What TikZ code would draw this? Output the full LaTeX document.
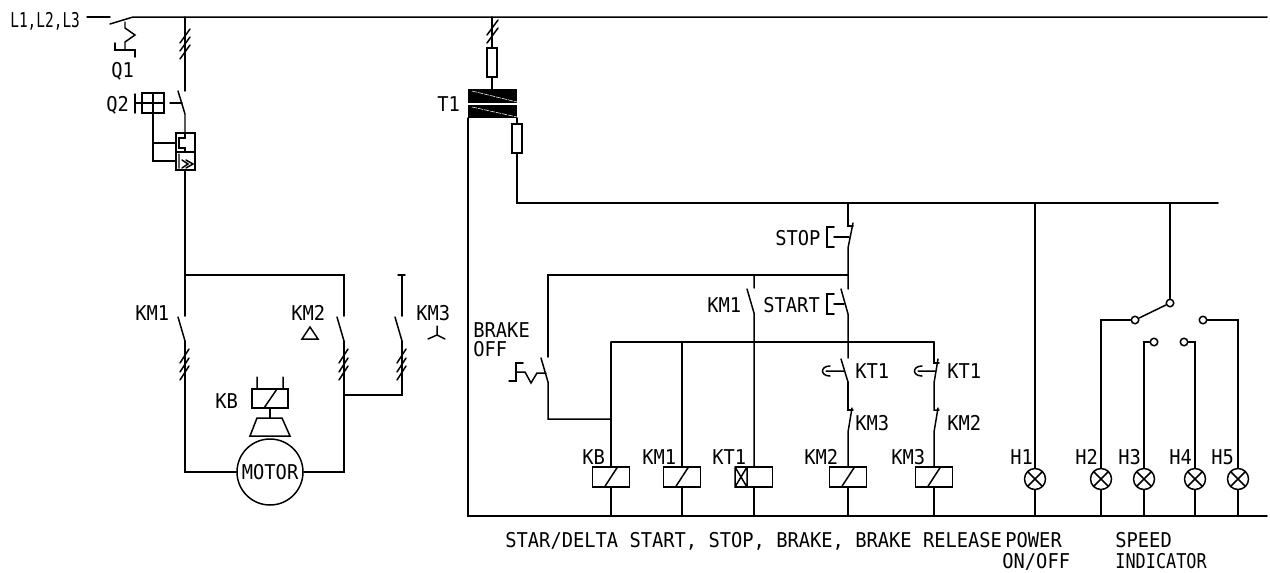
\documentclass[tikz,border=0pt]{standalone}
\usepackage{fontspec}
\setmainfont[FakeStretch=0.92]{DejaVu Sans Mono}
\usetikzlibrary{positioning}
\tikzset{
  wire/.style={line width=0.85pt,line cap=round},
  txt/.style={anchor=base west,inner sep=0pt,font=\fontsize{11.6}{13}\selectfont},
  coil/.style={draw,wire,rectangle,inner sep=0pt,minimum width=0.74cm,minimum height=0.4cm,
    path picture={\draw[wire,shift={(path picture bounding box.center)}] (-6.5,10) -- (6.5,-10);}},
  timer/.style={draw,wire,rectangle,inner sep=0pt,minimum width=0.74cm,minimum height=0.4cm},
  lamp/.style={draw,wire,circle,inner sep=0pt,minimum size=0.42cm,
    path picture={\draw[wire,shift={(path picture bounding box.center)}] (-8,-8) -- (8,8) (-8,8) -- (8,-8);}},
  post/.style={draw,wire,circle,inner sep=0pt,minimum size=0.15cm,fill=white},
}
\begin{document}
\begin{tikzpicture}[x=0.02cm,y=-0.02cm]
\useasboundingbox (0,0) rectangle (1270,572);
%supply
\draw[wire] (87,17) -- (110,17);
\draw[wire] (110,24) -- (133,17) -- (1267,17);
\node[txt] (l) at (10,27) {\scalebox{0.77}[1]{L1,L2,L3}};
\node[txt] (q1) at (111,77) {Q1};
\draw[wire] (125,22) -- (125,28) -- (135,35) -- (125,42) -- (125,50);
\draw[wire] (115,43) -- (115,50) -- (135,50) -- (135,57);
%main breaker Q2
\draw[wire] (185,17) -- (185,91);
\foreach \yy in {43,51,59} \draw[wire] (180,\yy) -- (190,\yy-14);
\draw[wire] (178,91) -- (185,114) -- (185,133);
\draw[wire] (170,103) -- (182,103);
\node[txt] (q2) at (106,111) {Q2};
\draw[wire] (135,94) -- (135,113) (135,103) -- (142,103);
\draw[wire] (142,93) rectangle (164,113) (153,93) -- (153,161) -- (176,161) (142,103) -- (164,103) (153,143) -- (176,143);
\draw[wire] (176,133) rectangle (195,170) (176,152) -- (195,152);
\draw[wire] (185,133) -- (185,138) -- (179,138) -- (179,148) -- (185,148) -- (185,152);
\draw[wire] (179,154) -- (179,168) (182,160) -- (188,164) -- (182,168) (186,160) -- (193,164) -- (186,168);
\draw[wire] (185,170) -- (185,316);
%motor branches
\coordinate (mleft) at (185,472);
\coordinate (mright) at (344,472);
\node[draw,wire,circle,inner sep=0pt,minimum size=1.32cm] (motor) at (270,472) {};
\node[txt] (mtxt) at (241.5,479) {MOTOR};
\draw[wire] (185,275) -- (344,275) -- (344,316);
\draw[wire] (185,341) -- (mleft) -- (motor);
\draw[wire] (344,341) -- (mright) -- (motor);
\draw[wire] (398,275) -- (405,275) (402,275) -- (402,316);
\draw[wire] (402,341) -- (402,395) -- (344,395);
\foreach \xx/\nn in {185/a,344/b,402/c}{
  \draw[wire] (\xx-7,317) -- (\xx,341);
  \foreach \yy in {363,372,380} \draw[wire] (\xx-5,\yy) -- (\xx+4,\yy-14);
}
\node[txt] (km1a) at (135,320) {KM1};
\node[txt] (km2a) at (291,320) {KM2};
\node[txt] (km3a) at (416,320) {KM3};
\draw[wire] (302,339) -- (318,339) -- (310,327) -- cycle;
\draw[wire] (437,326) -- (437,335) -- (428,339) (437,335) -- (445,339);
%brake
\node[txt] (kba) at (215,408) {KB};
\draw[wire] (252,389) rectangle (288,408);
\draw[wire] (257,377) -- (257,389) (283,377) -- (283,389) (264,408) -- (277,389);
\draw[wire] (270,408) -- (270,418);
\draw[wire] (257,418) -- (282,418) -- (290,436) -- (250,436) -- cycle;
%control transformer
\draw[wire] (492,17) -- (492,48);
\draw[wire] (487,35) -- (498,20) (487,43) -- (498,28);
\draw[wire] (487,48) rectangle (497,77);
\draw[wire] (492,77) -- (492,89);
\fill (468,89) rectangle (517,103);
\fill (468,105) rectangle (517,118);
\draw[white,line width=0.3pt,dash pattern=on 3pt off 0.5pt] (472,91) -- (517,102) (472,107) -- (517,117);
\node[txt] (t1) at (437,111) {T1};
\draw[wire] (517,118) -- (517,124) (517,153) -- (517,203) -- (1218,203);
\draw[wire] (512,124) rectangle (522,153);
\draw[wire] (468,118) -- (468,516) -- (1267,516);
%coils
\node[coil] (kb) at (611,477) {};
\node[coil] (km1) at (682,477) {};
\node[timer] (kt1) at (754,477) {};
\node[coil] (km2) at (848,477) {};
\node[coil] (km3) at (934,477) {};
\draw[wire] (735,467) rectangle (747,487) (735,467) -- (747,487) (735,487) -- (747,467);
\foreach \nn in {kb,km1,kt1,km2,km3} \draw[wire] (\nn.south) -- (\nn.south |- 0,516);
\node[txt] (kbl) at (582,464) {KB};
\node[txt] (km1l) at (642,464) {KM1};
\node[txt] (kt1l) at (712,464) {KT1};
\node[txt] (km2l) at (804,464) {KM2};
\node[txt] (km3l) at (891,464) {KM3};
%stop and start
\draw[wire] (848,203) -- (848,226) -- (853,226);
\draw[wire] (853,223) -- (848,248) -- (848,289);
\draw[wire] (834,237) -- (849,237) (834,227) -- (827,227) -- (827,247) -- (834,247);
\node[txt] (stop) at (775,245) {STOP};
\draw[wire] (548,357) -- (548,275) -- (848,275);
\draw[wire] (841,289) -- (848,314) -- (848,358);
\draw[wire] (834,304) -- (844,304) (834,294) -- (827,294) -- (827,314) -- (834,314);
\node[txt] (start) at (763,312) {START};
%brake off
\draw[wire] (541,358) -- (548,382) -- (548,419) -- (611,419);
\draw[wire] (509,381) -- (516,381) -- (516,363) -- (523,363);
\draw[wire] (516,372) -- (525,372) -- (531,383) -- (537,373) -- (546,373);
\node[txt] (brake) at (473,337) {BRAKE};
\node[txt] (off) at (473,356) {OFF};
%holding contact and rungs
\draw[wire] (754,275) -- (754,288) (747,289) -- (754,313) -- (kt1.north);
\node[txt] (km1r) at (707,312) {KM1};
\draw[wire] (611,342) -- (934,342);
\draw[wire] (611,342) -- (kb.north);
\draw[wire] (682,342) -- (km1.north);
%star and delta rungs
\draw[wire] (848,382) -- (848,410) -- (853,410);
\draw[wire] (852,408) -- (848,432) -- (km2.north);
\draw[wire] (841,359) -- (848,382);
\draw[wire] (826,371) -- (844,371) (830,366) .. controls (820,366) and (820,376) .. (830,376);
\draw[wire] (934,342) -- (934,363) -- (939,363);
\draw[wire] (938,359) -- (934,383) -- (934,410) -- (939,410);
\draw[wire] (938,408) -- (934,432) -- (km3.north);
\draw[wire] (918,371) -- (935,371) (922,366) .. controls (912,366) and (912,376) .. (922,376);
\node[txt] (kt1n) at (855,378) {KT1};
\node[txt] (km3n) at (855,430) {KM3};
\node[txt] (kt1m) at (947,378) {KT1};
\node[txt] (km2m) at (947,430) {KM2};
%lamps
\node[lamp] (h1) at (1035,479) {};
\node[lamp] (h2) at (1101,479) {};
\node[lamp] (h3) at (1144,479) {};
\node[lamp] (h4) at (1195,479) {};
\node[lamp] (h5) at (1238,479) {};
\foreach \nn in {h1,h2,h3,h4,h5} \draw[wire] (\nn.south) -- (\nn.south |- 0,516);
\draw[wire] (h1.north) -- (1035,203);
\node[txt] (h1l) at (1010,464) {H1};
\node[txt] (h2l) at (1075,464) {H2};
\node[txt] (h3l) at (1118,464) {H3};
\node[txt] (h4l) at (1169,464) {H4};
\node[txt] (h5l) at (1211,464) {H5};
%speed selector
\node[post] (sw) at (1170,303) {};
\node[post] (s2) at (1135,320) {};
\node[post] (s3) at (1154,342) {};
\node[post] (s4) at (1184,342) {};
\node[post] (s5) at (1203,320) {};
\draw[wire] (1170,203) -- (sw);
\draw[wire] (sw) -- (s2);
\draw[wire] (s2) -- (1101,320) -- (h2.north);
\draw[wire] (s3) -- (1144,342) -- (h3.north);
\draw[wire] (s4) -- (1195,342) -- (h4.north);
\draw[wire] (s5) -- (1238,320) -- (h5.north);
%captions
\node[txt] (cap) at (505,547) {STAR/DELTA START, STOP, BRAKE, BRAKE RELEASE};
\node[txt] (pow) at (1005,547) {POWER};
\node[txt] (onoff) at (1002,568) {ON/OFF};
\node[txt] (spd) at (1115,547) {SPEED};
\node[txt] (ind) at (1115,568) {\scalebox{0.9}[1]{INDICATOR}};
\end{tikzpicture}
\end{document}
